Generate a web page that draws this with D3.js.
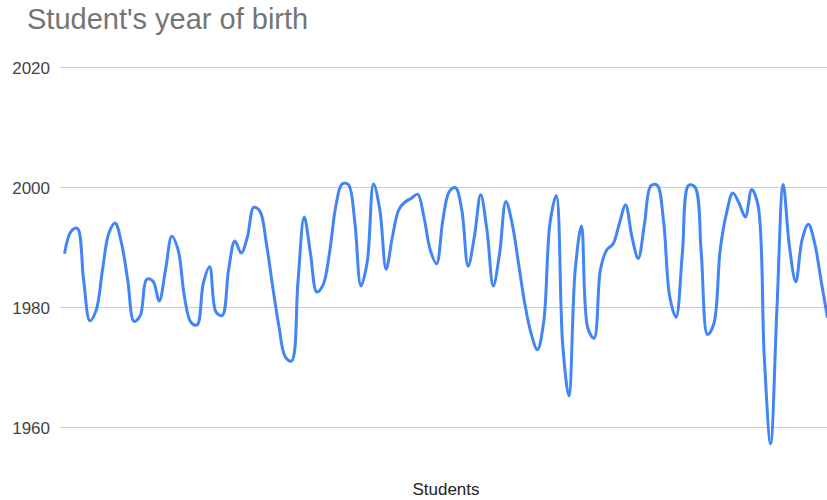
<!DOCTYPE html>
<html>
<head>
<meta charset="utf-8">
<script src="https://cdn.jsdelivr.net/npm/d3@7/dist/d3.min.js"></script>
<style>
  html, body { margin: 0; padding: 0; background: #ffffff; }
  svg { display: block; }
</style>
</head>
<body>
<div id="chart"></div>
<script>
// Year of birth for each student, in survey order
const birthYears = [
  1989.1, 1992.6, 1993.1, 1984.5, 1977.7, 1979.5, 1986.2, 1992.3, 1994.0, 1990.7,
  1984.5, 1977.6, 1978.6, 1984.6, 1984.3, 1981.0, 1986.2, 1991.8, 1989.5, 1981.7,
  1977.5, 1977.0, 1984.0, 1986.7, 1979.2, 1978.6, 1986.2, 1991.0, 1989.0, 1991.7,
  1996.6, 1995.9, 1990.6, 1983.4, 1976.7, 1971.7, 1971.0, 1984.0, 1995.0, 1988.9,
  1982.5, 1983.7, 1988.9, 1996.7, 2000.5, 2000.4, 1994.5, 1983.5, 1987.5, 2000.5,
  1996.2, 1986.3, 1991.7, 1996.2, 1997.5, 1998.1, 1998.8, 1995.0, 1989.5, 1987.2,
  1994.5, 1999.2, 1999.9, 1996.2, 1986.8, 1991.7, 1998.7, 1992.8, 1983.5, 1988.9,
  1997.6, 1993.9, 1987.3, 1980.6, 1975.6, 1972.9, 1977.5, 1994.0, 1998.6, 1974.0,
  1965.2, 1986.2, 1993.5, 1976.5, 1974.8, 1986.2, 1989.5, 1990.5, 1993.9, 1997.0,
  1991.7, 1988.1, 1993.9, 2000.2, 2000.3, 1994.5, 1981.7, 1978.3, 1988.9, 2000.3,
  2000.0, 1989.0, 1975.4, 1977.2, 1989.5, 1995.6, 1999.0, 1997.3, 1995.0, 1999.6,
  1997.0, 1971.7, 1957.2, 1979.5, 2000.4, 1990.0, 1984.2, 1991.2, 1993.8, 1990.6,
  1984.5, 1978.4
];

// One category per student
const students = birthYears.map((_, i) => "Student " + (i + 1));

const yTicks = [1960, 1980, 2000, 2020];
const yDomain = [1960, 2020];

const titleText = "Student's year of birth";
const xAxisTitle = "Students";

const width = 827, height = 500;
const plot = { left: 60, right: 832, top: 67, bottom: 427 };
const lineInset = 4.7;

const svg = d3.select("#chart").append("svg")
  .attr("width", width)
  .attr("height", height)
  .attr("viewBox", `0 0 ${width} ${height}`);

const x = d3.scalePoint()
  .domain(students)
  .range([plot.left + lineInset, plot.right - lineInset]);

const y = d3.scaleLinear()
  .domain(yDomain)
  .range([plot.bottom, plot.top]);

// Horizontal gridlines with year labels
const yAxis = d3.axisLeft(y)
  .tickValues(yTicks)
  .tickFormat(d3.format("d"))
  .tickSize(-(plot.right - plot.left))
  .tickPadding(10);

const gY = svg.append("g")
  .attr("transform", `translate(${plot.left},0)`)
  .call(yAxis);

gY.select(".domain").remove();
gY.selectAll(".tick line")
  .attr("stroke", "#cccccc")
  .attr("stroke-width", 1);
gY.selectAll(".tick text")
  .attr("fill", "#444444")
  .attr("font-family", "Arial, 'Liberation Sans', sans-serif")
  .attr("font-size", 17)
  .attr("dy", "0.36em");

// Smoothed line of birth years
const line = d3.line()
  .x((d, i) => x(students[i]))
  .y(d => y(d))
  .curve(d3.curveCatmullRom.alpha(0.5));

svg.append("path")
  .datum(birthYears)
  .attr("fill", "none")
  .attr("stroke", "#4285f4")
  .attr("stroke-width", 3)
  .attr("stroke-linejoin", "round")
  .attr("stroke-linecap", "round")
  .attr("d", line);

// Chart title
svg.append("text")
  .attr("x", 27)
  .attr("y", 29)
  .attr("fill", "#757575")
  .attr("font-family", "Arial, 'Liberation Sans', sans-serif")
  .attr("font-size", 29)
  .text(titleText);

// Horizontal axis title
svg.append("text")
  .attr("x", (plot.left + plot.right) / 2)
  .attr("y", 495)
  .attr("text-anchor", "middle")
  .attr("fill", "#222222")
  .attr("font-family", "Arial, 'Liberation Sans', sans-serif")
  .attr("font-size", 17)
  .text(xAxisTitle);
</script>
</body>
</html>
